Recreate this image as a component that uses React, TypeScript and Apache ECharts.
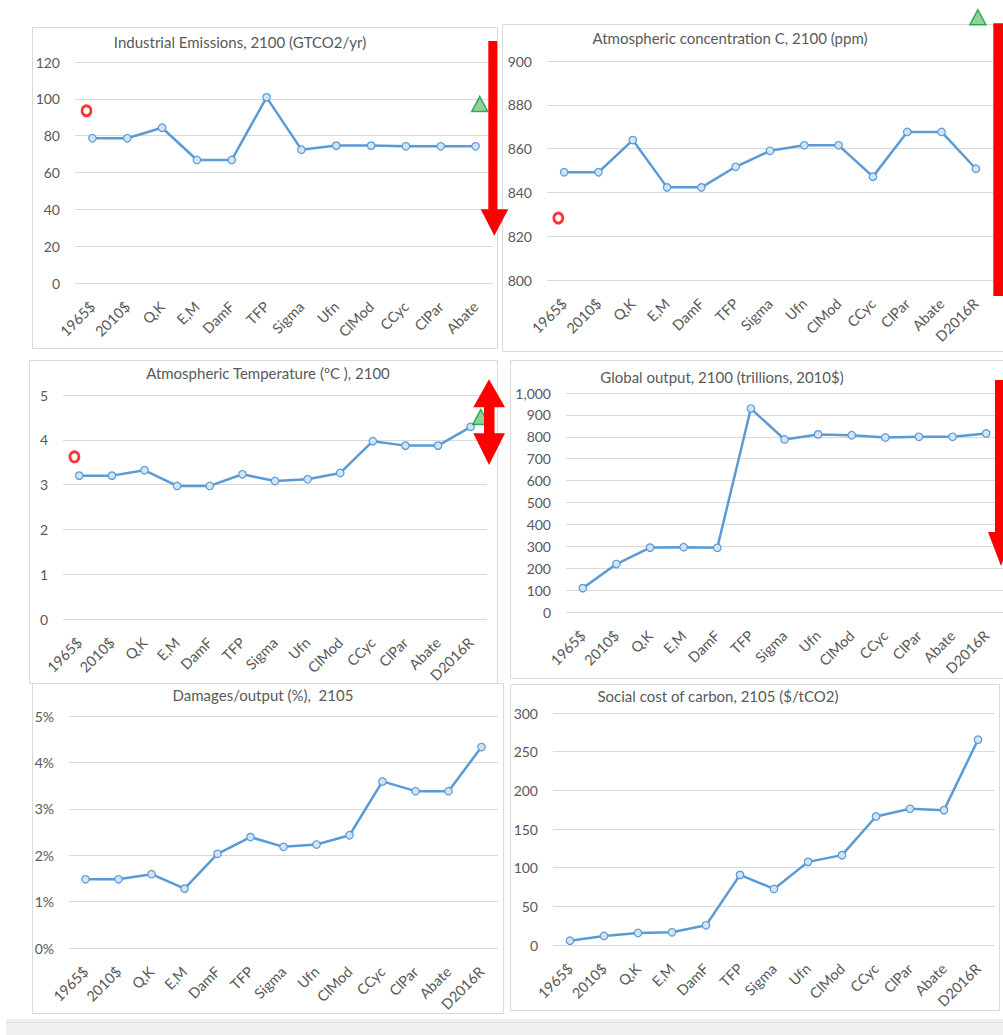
import React, { useEffect, useRef } from "react";
import * as echarts from "echarts";

// ---------- data ----------
const categories = ["1965$", "2010$", "Q,K", "E,M", "DamF", "TFP", "Sigma", "Ufn", "ClMod", "CCyc", "ClPar", "Abate", "D2016R"];
const emissionCategories = categories.slice(0, 12);

const emissions = [78.6, 78.6, 84.3, 66.8, 66.8, 100.8, 72.4, 74.6, 74.6, 74.2, 74.2, 74.2];
const concentration = [849.2, 849.2, 863.9, 842.3, 842.3, 851.7, 859.0, 861.5, 861.5, 847.2, 867.6, 867.6, 850.8];
const temperature = [3.2, 3.2, 3.32, 2.97, 2.97, 3.23, 3.08, 3.12, 3.26, 3.97, 3.87, 3.87, 4.29];
const output = [109, 219, 294, 296, 293, 929, 788, 811, 807, 797, 800, 800, 815];
const damages = [1.48, 1.48, 1.59, 1.28, 2.03, 2.39, 2.18, 2.23, 2.43, 3.59, 3.38, 3.38, 4.33];
const scc = [5.6, 11.7, 15.6, 16.4, 25.5, 90.7, 72.5, 107.5, 116.2, 166.2, 176.1, 174.4, 265.5];

// annotation marks: [category position, value]
const emissionsCircle = [-0.17, 93.5];
const emissionsTriangle = [11.12, 97.2];
const concentrationCircle = [-0.17, 828.3];
const concentrationTriangle = [12.06, 920];
const temperatureCircle = [-0.15, 3.62];
const temperatureTriangle = [12.31, 4.51];

const titles = [
  "Industrial Emissions, 2100 (GTCO2/yr)",
  "Atmospheric concentration C, 2100 (ppm)",
  "Atmospheric Temperature (ºC ), 2100",
  "Global output, 2100 (trillions, 2010$)",
  "Damages/output (%),  2105",
  "Social cost of carbon, 2105 ($/tCO2)",
];

const FONT = "Lato, 'Open Sans', sans-serif";
const TXT = "#595959";
const GRIDLINE = "#d9d9d9";
const BLUE = "#5b9bd5";
const RED = "#ff0000";

export default function App() {
  const ref = useRef<HTMLDivElement>(null);

  useEffect(() => {
    if (!ref.current) return;
    const chart = echarts.init(ref.current, undefined, { renderer: "svg" });

    const grids = [
      { left: 75, top: 62, width: 418, height: 221 },
      { left: 547, top: 61, width: 446, height: 219 },
      { left: 63, top: 395, width: 424, height: 224 },
      { left: 566, top: 393, width: 440, height: 219 },
      { left: 69, top: 716, width: 429, height: 232 },
      { left: 553, top: 713, width: 442, height: 232 },
    ];

    const catAxis = (gridIndex: number, data: string[]) => ({
      type: "category",
      gridIndex,
      data,
      boundaryGap: true,
      axisLine: { show: false },
      axisTick: { show: false },
      axisLabel: { rotate: 45, interval: 0, margin: 21, color: TXT, fontSize: 14.5, fontFamily: FONT },
    });
    const annoAxis = (gridIndex: number, n: number) => ({
      type: "value",
      gridIndex,
      min: -0.5,
      max: n - 0.5,
      show: false,
    });
    const valAxis = (gridIndex: number, min: number, max: number, interval: number, formatter?: any) => ({
      type: "value",
      gridIndex,
      min,
      max,
      interval,
      axisLine: { show: false },
      axisTick: { show: false },
      splitLine: { lineStyle: { color: GRIDLINE, width: 1 } },
      axisLabel: { margin: 15, color: TXT, fontSize: 14, fontFamily: FONT, formatter },
    });

    const lineSeries = (i: number, data: number[]) => ({
      type: "line",
      xAxisIndex: i,
      yAxisIndex: i,
      data,
      symbol: "circle",
      symbolSize: 7.5,
      lineStyle: { color: BLUE, width: 2.5 },
      itemStyle: { color: "#d3e4f4", borderColor: BLUE, borderWidth: 1.2 },
      z: 3,
    });
    const circleSeries = (xi: number, yi: number, pt: number[]) => ({
      type: "scatter",
      xAxisIndex: xi,
      yAxisIndex: yi,
      data: [pt],
      clip: false,
      symbol: "circle",
      symbolSize: [9, 10],
      itemStyle: { color: "rgba(255,255,255,0)", borderColor: RED, borderWidth: 2.8 },
      z: 4,
    });
    const triSeries = (xi: number, yi: number, pt: number[]) => ({
      type: "scatter",
      xAxisIndex: xi,
      yAxisIndex: yi,
      data: [pt],
      clip: false,
      symbol: "triangle",
      symbolSize: [16, 15],
      itemStyle: { color: "#7cc47c", borderColor: "#00a040", borderWidth: 1.5 },
      z: 4,
    });

    const titlePos = [
      [240, 43],
      [730, 39],
      [268, 374],
      [722, 378],
      [263, 696],
      [718, 697],
    ];

    const panels = [
      [32, 27, 465, 321],
      [502, 24, 520, 327],
      [29, 360, 468, 323],
      [510, 360, 510, 318],
      [32, 683, 471, 330],
      [510, 684, 489, 326],
    ];

    const option: any = {
      animation: false,
      backgroundColor: "#ffffff",
      title: titles.map((t, i) => ({
        text: t,
        left: titlePos[i][0],
        top: titlePos[i][1] - 9,
        textAlign: "center",
        padding: 0,
        textStyle: { color: TXT, fontSize: 15, fontWeight: "normal", fontFamily: FONT },
      })),
      grid: grids,
      xAxis: [
        catAxis(0, emissionCategories),
        catAxis(1, categories),
        catAxis(2, categories),
        catAxis(3, categories),
        catAxis(4, categories),
        catAxis(5, categories),
        annoAxis(0, emissionCategories.length),
        annoAxis(1, categories.length),
        annoAxis(2, categories.length),
      ],
      yAxis: [
        valAxis(0, 0, 120, 20),
        valAxis(1, 800, 900, 20),
        valAxis(2, 0, 5, 1),
        valAxis(3, 0, 1000, 100, (v: number) => v.toLocaleString("en-US")),
        valAxis(4, 0, 5, 1, (v: number) => v + "%"),
        valAxis(5, 0, 300, 50),
      ],
      series: [
        lineSeries(0, emissions),
        lineSeries(1, concentration),
        lineSeries(2, temperature),
        lineSeries(3, output),
        lineSeries(4, damages),
        lineSeries(5, scc),
        circleSeries(6, 0, emissionsCircle),
        triSeries(6, 0, emissionsTriangle),
        circleSeries(7, 1, concentrationCircle),
        triSeries(7, 1, concentrationTriangle),
        circleSeries(8, 2, temperatureCircle),
        triSeries(8, 2, temperatureTriangle),
      ],
      graphic: [
        ...panels.map((p) => ({
          type: "rect",
          z: -10,
          silent: true,
          shape: { x: p[0] + 0.5, y: p[1] + 0.5, width: p[2], height: p[3] },
          style: { fill: "none", stroke: GRIDLINE, lineWidth: 1 },
        })),
        {
          type: "rect",
          z: -10,
          shape: { x: 6, y: 1019, width: 1000, height: 20 },
          style: { fill: "#f0f0f0", stroke: "none" },
        },
        {
          type: "line",
          z: -9,
          shape: { x1: 6, y1: 1022.5, x2: 1003, y2: 1022.5 },
          style: { stroke: "#dcdcdc", lineWidth: 1 },
        },
        // red arrows
        {
          type: "polygon",
          z: 100,
          shape: {
            points: [
              [488.3, 41],
              [497.3, 41],
              [497.3, 209.3],
              [508.3, 209.3],
              [494.3, 235.7],
              [480.7, 209.3],
              [488.3, 209.3],
            ],
          },
          style: { fill: RED, stroke: "none" },
        },
        {
          type: "rect",
          z: 100,
          shape: { x: 993.3, y: 23.3, width: 15, height: 272.7 },
          style: { fill: RED, stroke: "none" },
        },
        {
          type: "polygon",
          z: 100,
          shape: {
            points: [
              [489, 379.3],
              [505, 407.3],
              [494.5, 407.3],
              [494.5, 433.3],
              [505, 433.3],
              [489, 465],
              [473.3, 433.3],
              [484, 433.3],
              [484, 407.3],
              [473.3, 407.3],
            ],
          },
          style: { fill: RED, stroke: "none" },
        },
        {
          type: "polygon",
          z: 100,
          shape: {
            points: [
              [995, 380],
              [1007, 380],
              [1007, 532],
              [1014, 532],
              [1001, 566],
              [988, 532],
              [995, 532],
            ],
          },
          style: { fill: RED, stroke: "none" },
        },
      ],
    };

    chart.setOption(option);
    return () => chart.dispose();
  }, []);

  return (
    <div
      ref={ref}
      style={{ position: "absolute", left: 0, top: 0, width: 1003, height: 1035, background: "#fff" }}
    />
  );
}
